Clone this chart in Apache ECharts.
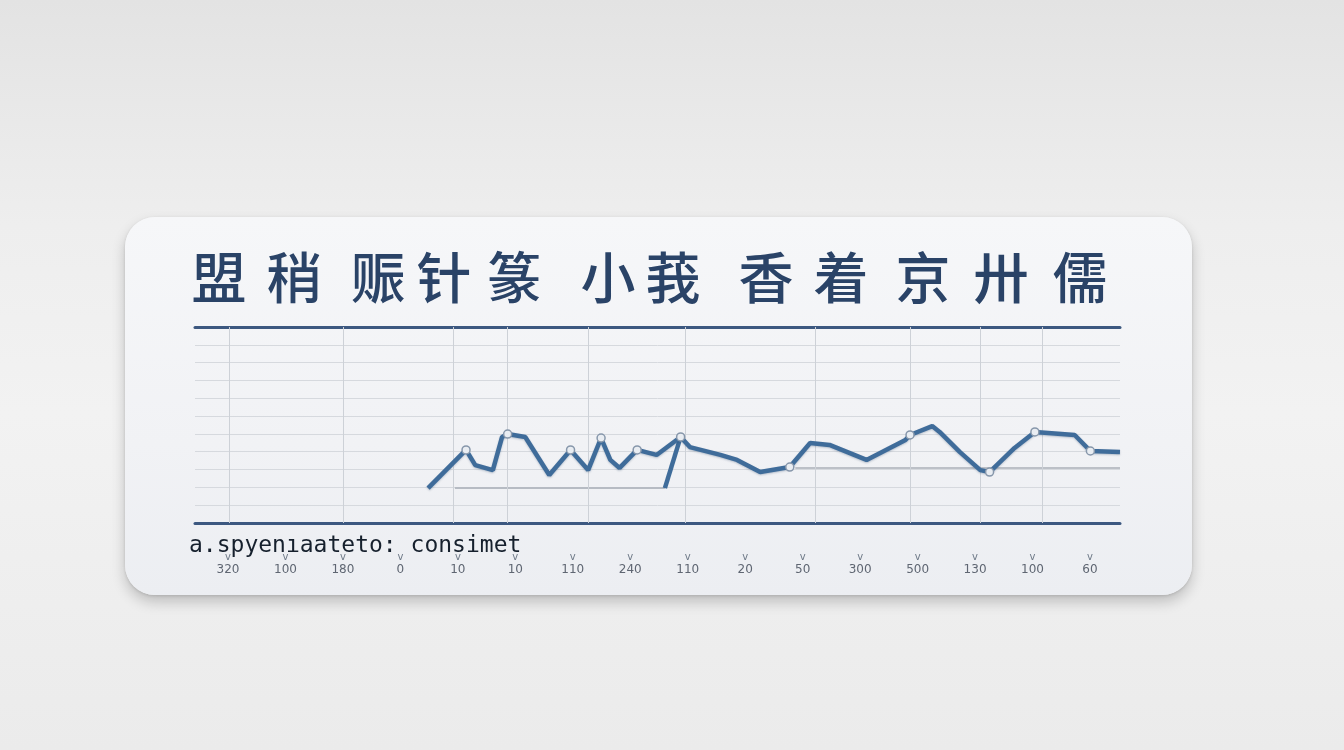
<!DOCTYPE html>
<html>
<head>
<meta charset="utf-8">
<script src="https://cdn.jsdelivr.net/npm/echarts@6/dist/echarts.min.js"></script>
<style>
  html, body { margin:0; padding:0; width:1344px; height:750px; overflow:hidden;
    background: linear-gradient(180deg, #e3e3e3 0%, #eeeeee 30%, #f2f2f2 55%, #ebebeb 100%); }
  #card { position:absolute; left:125px; top:217px; width:1067px; height:378px; border-radius:30px;
    background: linear-gradient(180deg, #f6f7f9 0%, #f1f2f5 60%, #eceef2 100%);
    box-shadow: 0 7px 14px rgba(0,0,0,0.20), 0 1px 3px rgba(0,0,0,0.12); }
  #chart { position:absolute; left:0; top:0; width:1344px; height:750px; }
</style>
</head>
<body>
<div id="card"></div>
<div id="chart"></div>
<script>
// ---- data ----
const titleChars = ['盟', '稍', '赈', '针', '篆', '小', '莪', '香', '着', '京', '卅', '儒'];
const subtitle = 'a.spyenıaateto: consimet';
const xLabels = ['320', '100', '180', '0', '10', '10', '110', '240', '110', '20', '50', '300', '500', '130', '100', '60'];
// main line: x in % of plot width, y in grid units
const lineX = [25.2, 29.3, 30.3, 32.2, 33.2, 33.8, 35.7, 38.3, 40.6, 42.5, 43.9, 44.9, 45.9, 47.8, 49.9, 52.5, 53.5, 56.8, 58.6, 61.1, 64.3, 66.5, 68.6, 72.6, 76.8, 77.3, 79.7, 80.5, 82.7, 84.9, 85.9, 88.6, 90.8, 95.1, 96.8, 100];
const lineY = [1.96, 4.10, 3.25, 2.97, 4.83, 4.99, 4.83, 2.69, 4.10, 2.97, 4.77, 3.54, 3.09, 4.10, 3.82, 4.83, 4.26, 3.82, 3.54, 2.86, 3.14, 4.49, 4.38, 3.54, 4.66, 4.94, 5.44, 5.11, 3.98, 2.97, 2.86, 4.21, 5.11, 4.94, 4.04, 3.98];
const markerIdx = [1, 5, 8, 10, 13, 15, 20, 25, 30, 32, 34];
const baseLineX = [28.1, 50.8];
const baseLineY = [1.96, 1.96];
const riserX = [50.8, 52.5];
const riserY = [1.96, 4.83];
const refLineX = [64.9, 100];
const refLineY = [3.09, 3.09];
const vGridX = [3.7, 16.0, 27.9, 33.8, 42.5, 53.0, 67.0, 77.3, 84.9, 91.6];

// ---- layout (not data) ----
const titleCenters = [219, 294, 378, 444, 514, 608, 673, 766, 841, 923, 1001, 1080];

const chart = echarts.init(document.getElementById('chart'), null, { renderer: 'canvas' });
const pair = (xs, ys) => xs.map((x, i) => [x, ys[i]]);
const mainData = lineX.map((x, i) => markerIdx.includes(i)
  ? { value: [x, lineY[i]], symbol: 'circle', symbolSize: 8 }
  : { value: [x, lineY[i]], symbol: 'none' });

const graphics = titleChars.map((c, i) => ({
  type: 'text', x: titleCenters[i], y: 277, z: 10,
  style: { text: c, font: '500 55px "Noto Sans CJK SC"', fill: '#2a4367', align: 'center', verticalAlign: 'middle' }
}));
graphics.push({
  type: 'text', x: 189, y: 546, z: 10,
  style: { text: subtitle, font: '23px "DejaVu Sans Mono"', fill: '#16202d', align: 'left', verticalAlign: 'middle' }
});

const navy = { color: '#3c5880', width: 3 };

chart.setOption({
  backgroundColor: 'transparent',
  animation: false,
  graphic: graphics,
  grid: [
    { left: 195, right: 224, top: 327, bottom: 227 },
    { left: 228, right: 254, top: 327, bottom: 227 }
  ],
  xAxis: [
    { type: 'value', gridIndex: 0, min: 0, max: 100, position: 'bottom',
      axisLine: { show: true, lineStyle: navy }, axisTick: { show: false }, axisLabel: { show: false }, splitLine: { show: false } },
    { type: 'value', gridIndex: 0, min: 0, max: 100, position: 'top',
      axisLine: { show: true, lineStyle: navy }, axisTick: { show: false }, axisLabel: { show: false }, splitLine: { show: false } },
    { type: 'category', gridIndex: 1, boundaryGap: false, data: xLabels, position: 'bottom',
      axisLine: { show: false }, axisTick: { show: false }, splitLine: { show: false },
      axisLabel: { margin: 29, interval: 0, formatter: v => '{t|v}\n{l|' + v + '}',
        rich: {
          t: { fontSize: 10, color: '#6f7a88', lineHeight: 11, fontFamily: 'DejaVu Sans' },
          l: { fontSize: 12, color: '#5f6672', lineHeight: 14, fontFamily: 'DejaVu Sans' }
        } } }
  ],
  yAxis: [
    { type: 'value', gridIndex: 0, min: 0, max: 11, interval: 1,
      axisLine: { show: false }, axisTick: { show: false }, axisLabel: { show: false },
      splitLine: { show: true, lineStyle: { color: '#d6d9de', width: 1 } } },
    { type: 'value', gridIndex: 1, show: false }
  ],
  series: [
    { type: 'line', xAxisIndex: 0, yAxisIndex: 0, data: pair(baseLineX, baseLineY), symbol: 'none',
      lineStyle: { color: '#b6bbc3', width: 2 }, z: 3,
      markLine: { silent: true, symbol: 'none', label: { show: false },
        lineStyle: { color: '#cdd1d7', width: 1, type: 'solid' },
        data: vGridX.map(v => ({ xAxis: v })) } },
    { type: 'line', xAxisIndex: 0, yAxisIndex: 0, data: pair(refLineX, refLineY), symbol: 'none',
      lineStyle: { color: '#bcc0c7', width: 2 }, z: 3 },
    { type: 'line', xAxisIndex: 0, yAxisIndex: 0, data: pair(riserX, riserY), symbol: 'none',
      lineStyle: { color: '#3f6c9a', width: 4.5 }, z: 4 },
    { type: 'line', xAxisIndex: 0, yAxisIndex: 0, data: mainData, showSymbol: true,
      lineStyle: { color: '#3f6c9a', width: 4.5, shadowColor: 'rgba(20,50,90,0.25)', shadowBlur: 2, shadowOffsetY: 1 },
      itemStyle: { color: '#e9edf2', borderColor: '#8797ab', borderWidth: 1.5 }, z: 5 }
  ]
});
</script>
</body>
</html>
